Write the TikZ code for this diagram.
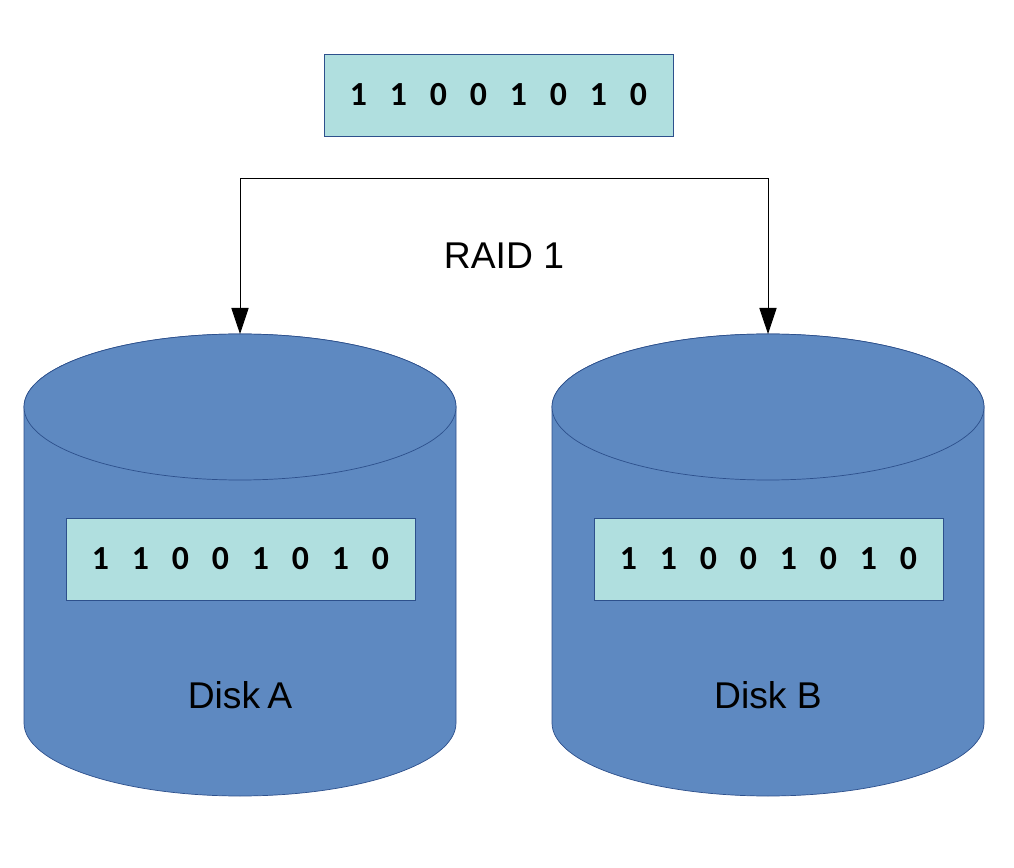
\documentclass[tikz,border=0pt]{standalone}
\usepackage{fontspec}
\setmainfont{Liberation Sans}
\newfontfamily\bitfont[WordSpace=3.0]{Carlito}
\usepackage{tikz}
\usetikzlibrary{arrows.meta}
\definecolor{diskblue}{RGB}{94,137,193}
\definecolor{diskline}{RGB}{45,80,140}
\definecolor{bitsteal}{RGB}{176,223,223}

\begin{document}
\begin{tikzpicture}[
  x=1cm, y=1cm,
  every node/.style={inner sep=1pt},
  disk/.style={draw=diskline, fill=diskblue, line width=0.5pt},
  bits/.style={rectangle, draw=diskline, fill=bitsteal, line width=0.5pt,
    minimum width=8.725cm, minimum height=2.05cm, inner sep=0pt,
    font=\bitfont\bfseries\fontsize{24}{28}\selectfont},
  label/.style={font=\fontsize{26.5}{32}\selectfont},
  wire/.style={draw, line width=0.6pt},
  arrow/.style={draw, line width=0.6pt, -{Triangle[length=0.65cm, width=0.43cm]}}]

  \useasboundingbox (0,0) rectangle (25.35,21.675);

  % the two disks: body, then the top face
  \foreach \x/\name in {6.00/a, 19.20/b} {
    \path[disk] (\x-5.40,11.50) -- (\x-5.40,3.60)
      arc[start angle=180, end angle=360, x radius=5.40, y radius=1.825]
      -- (\x+5.40,11.50)
      arc[start angle=0, end angle=180, x radius=5.40, y radius=1.825] -- cycle;
    \path[disk] (\x,11.50) ellipse[x radius=5.40, y radius=1.825];
    \coordinate (disk\name) at (\x,13.325);
    \coordinate (split\name) at (\x,17.22);
  }

  % vertices
  \node[bits] (source) at (12.46,19.30) {1 1 0 0 1 0 1 0};
  \node[bits] (bitsa) at (6.01,7.70) {1 1 0 0 1 0 1 0};
  \node[bits] (bitsb) at (19.21,7.70) {1 1 0 0 1 0 1 0};

  % arrows
  \draw[wire]  (splita) -- (splitb);
  \draw[arrow] (splita) -- (diska);
  \draw[arrow] (splitb) -- (diskb);

  % labels printed inside the picture
  \node[label] (raid) at (12.60,15.28) {RAID 1};
  \node[label] (namea) at (6.00,4.30) {Disk\hspace{-0.08cm} A};
  \node[label] (nameb) at (19.20,4.30) {Disk B};
\end{tikzpicture}
\end{document}
